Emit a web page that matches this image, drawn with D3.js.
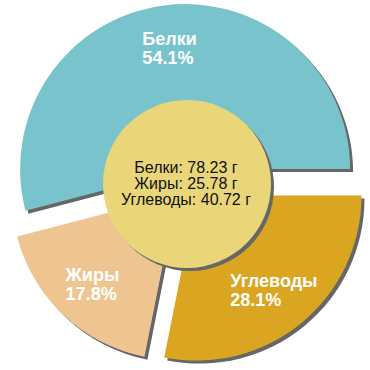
<!DOCTYPE html>
<html>
<head>
<meta charset="utf-8">
<script src="https://cdn.jsdelivr.net/npm/d3@7"></script>
<style>
  body { margin: 0; background: #fff; }
  text { font-family: "Liberation Sans", Arial, sans-serif; }
</style>
</head>
<body>
<div id="vis"></div>
<script>
// nutrients, in the order they go round the pie (clockwise from 3 o'clock)
const categories = ['Углеводы', 'Жиры', 'Белки'];
const grams = [40.72, 25.78, 78.23];
const colors = ['#DAA520', '#EEC591', '#79C4CC'];
// order of the lines in the centre label
const centreOrder = ['Белки', 'Жиры', 'Углеводы'];

const width = 370, height = 370;
const cx = 187, cy = 184;       // pie centre
const radius = 165;
const explode = 15;
const holeR = 84;

const data = categories.map((c, i) => ({name: c, value: grams[i], color: colors[i]}));
const total = d3.sum(grams);

const svg = d3.select('#vis')
    .append('svg')
    .attr('width', width)
    .attr('height', height);

const pie = d3.pie()
    .sort(null)
    .value(d => d.value)
    .startAngle(Math.PI / 2)
    .endAngle(Math.PI / 2 + 2 * Math.PI);

const arcs = pie(data);
const arc = d3.arc().innerRadius(0).outerRadius(radius);

// offset of each slice along its middle angle
const shift = a => {
    const m = (a.startAngle + a.endAngle) / 2;
    return [Math.sin(m) * explode, -Math.cos(m) * explode];
};

const g = svg.append('g').attr('transform', `translate(${cx},${cy})`);

// shadows first
g.selectAll('path.shadow')
    .data(arcs)
    .enter()
    .append('path')
    .attr('class', 'shadow')
    .attr('d', arc)
    .attr('fill', '#666')
    .attr('transform', d => { const s = shift(d); return `translate(${s[0] + 3},${s[1] + 3})`; });

g.selectAll('path.slice')
    .data(arcs)
    .enter()
    .append('path')
    .attr('class', 'slice')
    .attr('d', arc)
    .attr('fill', d => d.data.color)
    .attr('transform', d => { const s = shift(d); return `translate(${s[0]},${s[1]})`; });

// slice labels: two left-aligned lines, block centred on the label point
const labelR = 122;
arcs.forEach(a => {
    const s = shift(a);
    const m = (a.startAngle + a.endAngle) / 2;
    const lx = s[0] + Math.sin(m) * labelR;
    const ly = s[1] - Math.cos(m) * labelR;
    const t = g.append('text')
        .attr('fill', '#fff')
        .style('font-size', '18px')
        .style('font-weight', 'bold');
    t.append('tspan').attr('x', 0).attr('y', 0).text(a.data.name);
    t.append('tspan').attr('x', 0).attr('y', 19).text((a.data.value / total * 100).toFixed(1) + '%');
    const bb = t.node().getBBox();
    t.attr('transform', `translate(${lx - bb.width / 2},${ly - 3})`);
});

// centre disc
g.append('circle').attr('cx', 3).attr('cy', 3).attr('r', holeR).attr('fill', '#666');
g.append('circle').attr('r', holeR).attr('fill', '#E8D679');

const centre = g.append('text')
    .attr('text-anchor', 'middle')
    .attr('fill', '#111')
    .style('font-size', '16px');
centreOrder.forEach((n, i) => {
    const v = grams[categories.indexOf(n)];
    centre.append('tspan')
        .attr('x', -1)
        .attr('y', -11 + i * 16)
        .text(`${n}: ${v.toFixed(2)} г`);
});
</script>
</body>
</html>
